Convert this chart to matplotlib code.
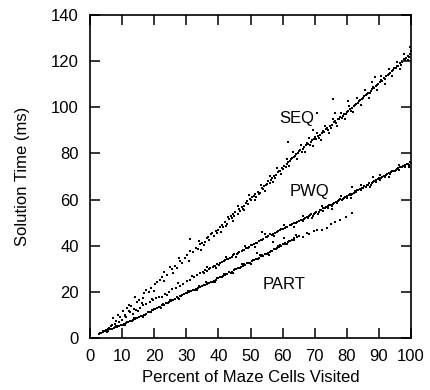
import matplotlib
matplotlib.use("Agg")
import matplotlib.pyplot as plt
import numpy as np

plt.rcParams['font.family'] = ['Liberation Sans', 'DejaVu Sans']

# ---- data (percent visited, solution time ms) ----
seq_pts = [
    (3.2,2.1),(4.1,3.0),(5.0,3.6),(5.8,4.5),(6.9,5.8),(7.3,8.5),(8.1,7.2),(8.6,9.8),(9.4,8.9),(10.2,11.6),
    (10.8,10.1),(11.5,12.8),(12.3,11.9),(12.9,14.0),(13.6,12.6),(14.5,15.8),(15.2,16.5),(16.1,15.2),(16.8,19.4),
    (17.6,20.8),(18.4,19.9),(19.1,21.6),(20.3,23.4),(20.8,24.3),(21.7,25.0),(22.3,26.5),(23.1,24.7),(23.9,27.3),
    (24.9,30.9),(25.6,29.8),(26.4,31.2),(27.2,30.5),(28.0,33.4),(28.8,32.6),(29.6,34.7),(30.2,35.9),(31.2,37.6),
    (31.2,42.8),(32.0,37.2),(32.9,39.1),(33.5,38.4),(34.3,40.6),(35.0,41.0),(35.8,41.7),(36.4,43.2),(37.1,42.6),
    (37.8,44.9),(38.5,44.1),(39.2,46.3),(40.0,46.8),(40.5,48.2),(41.3,47.9),(42.0,50.1),(42.6,49.3),(43.4,51.6),
    (44.1,51.9),(44.7,53.8),(45.3,54.6),(46.0,53.7),(46.7,55.2),(47.3,56.8),(48.0,57.1),(48.6,58.4),(49.2,57.9),
    (49.9,60.2),(50.5,60.9),(51.1,61.6),(51.8,61.2),(52.4,63.4),(53.0,63.0),(53.7,65.1),(54.3,65.8),(54.9,66.4),
    (55.5,67.9),(56.2,67.3),(56.8,69.2),(57.4,70.1),(58.0,70.8),(58.7,71.9),(59.3,72.6),(59.9,73.8),(60.5,74.5),
    (61.1,74.1),(61.8,76.3),(61.8,85.1),(62.4,76.8),(63.0,77.9),(63.6,78.4),(64.3,79.6),(64.9,80.3),(65.5,81.4),
    (66.1,80.8),(66.8,82.9),(67.4,83.5),(68.0,84.1),(68.6,83.6),(69.2,85.7),(69.6,90.2),(69.9,86.4),(70.5,86.1),
    (70.8,97.5),(71.1,87.5),(71.7,88.2),(72.3,88.9),(72.9,89.4),(73.6,90.6),(74.2,90.1),(74.8,91.8),(75.4,92.4),
    (75.8,103.6),(76.1,93.5),(76.3,97.4),(76.7,93.1),(77.3,94.8),(77.9,95.6),(78.5,95.2),(79.2,96.9),(79.8,97.3),
    (80.4,98.4),(80.5,102.9),(81.0,99.1),(81.6,99.8),(82.3,100.6),(82.9,101.4),(83.5,101.9),(84.1,103.2),
    (84.8,103.8),(85.4,104.7),(86.0,105.5),(86.6,106.3),(87.2,106.0),(87.9,107.8),(88.5,108.4),(88.8,113.3),
    (89.1,109.1),(89.7,110.2),(90.3,110.8),(91.0,111.5),(91.6,112.9),(92.2,113.4),(92.8,114.1),(93.4,114.8),
    (94.1,115.6),(94.7,116.9),(95.3,117.2),(95.9,118.0),(96.5,119.1),(97.2,119.6),(97.8,120.8),(98.4,121.3),
    (99.0,122.4),(99.6,123.1),(100.0,124.2),
    (35.4,40.2),(36.9,43.9),(38.1,45.6),(39.6,45.4),(41.0,49.0),(42.3,48.6),(43.8,52.7),(45.0,52.9),(46.4,55.9),
    (47.7,56.1),(49.0,59.3),(50.2,59.6),(51.5,62.5),(52.7,62.2),(54.0,64.6),(55.2,66.9),(56.5,68.6),(57.7,69.4),
    (59.0,72.3),(60.2,73.1),(61.5,75.6),(62.7,77.4),(64.0,78.8),(65.2,80.9),(66.5,81.9),(67.7,84.6),(69.0,84.9),
    (70.2,87.2),(71.4,86.9),(72.6,89.9),(73.9,91.2),(75.1,91.0),(76.4,93.9),(77.6,95.1),(78.8,96.3),(80.1,97.9),
    (81.3,98.6),(82.6,101.1),(83.8,102.6),(85.1,103.9),(86.3,105.9),(87.5,107.0),(88.2,108.9),(89.4,109.6),
    (90.6,111.9),(91.9,112.3),(93.1,114.4),(94.4,116.2),(95.6,117.7),(96.8,118.4),(98.1,120.7),(99.3,122.0),
    (40.8,46.1),(42.9,52.4),(44.4,50.9),(46.2,57.1),(47.9,55.4),(49.6,62.0),(51.3,59.6),(53.3,66.2),(54.6,63.9),
    (56.0,70.2),(57.1,67.4),(58.4,73.9),(59.6,71.0),(61.3,77.6),(62.1,74.6),(63.3,80.6),(64.6,77.6),(65.8,83.5),
    (67.1,80.6),(68.3,86.6),(69.4,83.4),(70.8,89.0),(71.9,85.8),(73.2,92.1),(74.5,88.9),(75.6,95.0),(77.0,92.0),
    (78.2,97.6),(79.5,94.9),(80.7,100.6),(82.0,97.8),(83.2,104.0),(84.4,101.0),(85.7,107.4),(87.0,104.1),
    (88.0,110.9),(89.3,107.3),(90.5,113.4),(91.8,110.2),(93.0,116.6),(94.2,113.4),(95.5,119.8),(96.7,116.8),
    (97.9,123.0),(99.2,120.4),(99.8,126.0),
    (12.0,14.5),(14.0,17.8),(16.5,17.5),(19.8,20.5),(22.9,28.6),(26.0,28.2),(27.6,34.8),(30.8,33.4),(33.9,41.9),
    (34.6,38.1),
]

pwq_pts = [
    (3.0,2.3),(4.4,3.2),(5.6,4.1),(6.5,5.0),(7.7,6.1),(8.9,6.9),(10.1,7.8),(11.2,9.1),(12.5,11.4),(13.3,10.6),
    (14.4,12.2),(15.6,12.9),(16.5,14.1),(17.4,14.6),(18.7,15.7),(19.6,16.3),(20.7,17.4),(21.6,17.6),(22.3,17.9),
    (23.4,19.2),(24.6,20.1),(25.5,21.3),(26.7,21.6),(28.0,22.4),(29.1,23.6),(30.2,24.9),(31.2,25.1),(32.3,26.4),
    (33.2,27.3),(34.3,28.0),(35.1,28.6),(35.9,29.5),(36.6,29.0),(37.4,30.3),(38.2,30.8),(38.9,31.4),(39.7,31.9),
    (40.5,32.4),(41.2,32.9),(42.0,33.6),(42.7,34.3),(43.5,34.8),(44.2,35.1),(45.0,36.2),(45.7,36.4),(46.5,37.3),
    (47.2,37.5),(48.0,38.2),(48.7,38.9),(49.5,39.4),(50.2,40.1),(51.0,40.7),(51.7,41.2),(52.5,41.9),(53.2,42.6),
    (53.5,46.1),(54.0,43.0),(54.7,43.8),(55.5,44.1),(56.2,44.9),(57.0,45.2),(57.7,45.5),(58.5,46.3),(59.2,46.8),
    (60.0,47.4),(60.7,47.6),(61.5,48.3),(62.2,48.9),(63.0,49.4),(63.7,49.8),(64.5,50.4),(65.2,50.9),(66.0,51.3),
    (66.7,51.6),(67.5,52.4),(68.2,52.7),(69.0,53.6),(69.7,53.9),(70.5,54.5),(71.2,54.8),(72.0,55.6),(72.7,56.3),
    (73.5,56.7),(74.2,57.1),(75.0,57.8),(75.7,58.2),(76.5,58.9),(77.2,59.4),(78.0,60.1),(78.7,60.4),(79.5,61.2),
    (80.2,61.7),(81.0,62.3),(81.5,65.6),(81.7,62.6),(82.5,63.5),(83.2,64.1),(84.0,64.6),(84.7,64.9),(85.5,65.8),
    (86.2,66.2),(87.0,67.0),(87.7,67.3),(88.3,70.0),(88.5,67.9),(89.2,68.5),(90.0,69.2),(90.7,69.5),(91.5,70.4),
    (92.2,70.8),(93.0,71.5),(93.7,71.8),(94.5,72.4),(95.2,72.9),(96.0,73.6),(96.7,74.1),(97.5,74.6),(98.2,75.0),
    (99.0,75.6),(99.7,76.3),
    (35.5,28.2),(37.0,29.8),(38.6,31.2),(40.1,31.7),(41.6,33.3),(43.1,34.2),(44.6,35.8),(46.1,36.7),(47.6,38.0),
    (49.1,38.8),(50.6,40.3),(52.1,41.3),(53.6,42.4),(55.1,43.8),(56.6,44.6),(58.1,45.9),(59.6,47.1),(61.1,47.9),
    (62.6,49.1),(64.1,50.0),(65.6,51.0),(67.1,51.9),(68.6,53.1),(70.1,54.0),(71.6,55.3),(73.1,56.2),(74.6,57.6),
    (76.1,58.4),(77.6,59.6),(79.1,60.6),(80.6,62.0),(82.1,62.8),(83.6,64.3),(85.1,65.2),(86.6,66.4),(88.1,67.6),
    (89.6,68.9),(91.1,69.9),(92.6,71.1),(94.1,72.2),(95.6,73.1),(97.1,74.2),(98.6,75.3),(99.9,75.9),
    (66.3,50.6),(67.9,51.8),(69.4,52.9),(71.0,53.9),(72.5,55.2),(74.0,56.4),(75.5,57.3),(77.0,58.6),(78.5,59.7),
    (80.0,60.8),(81.4,61.9),(83.0,63.1),(84.5,64.2),(86.0,65.3),(87.4,66.5),(89.0,67.7),(90.4,68.6),(92.0,70.0),
    (93.4,70.9),(95.0,72.2),(96.4,73.0),(98.0,74.1),(99.4,75.1),
    (36.3,30.6),(39.3,30.2),(42.3,35.0),(45.4,35.0),(48.4,39.8),(51.4,39.6),(54.4,44.9),(57.4,44.0),(60.4,48.9),
    (63.4,48.1),(66.4,52.9),(69.3,51.9),(72.3,57.1),(75.3,56.1),(78.3,61.5),(81.3,60.6),(84.3,66.2),(87.3,65.6),
    (90.3,70.7),(93.3,69.9),(96.3,75.0),(99.3,74.0),
    (10.8,9.6),(14.9,11.6),(19.2,17.1),(23.9,18.6),(27.5,23.8),(31.7,27.0),
]

part_pts = [
    (2.8,1.7),(3.5,2.2),(4.2,2.5),(4.9,3.0),(5.6,3.2),(6.3,3.8),(7.0,4.0),(7.7,4.6),(8.4,4.8),(9.1,5.3),
    (9.8,5.6),(10.5,6.1),(11.2,6.4),(11.9,7.0),(12.6,7.2),(13.3,7.9),(14.0,8.1),(14.7,8.7),(15.4,9.0),(16.1,9.5),
    (16.8,10.0),(17.5,10.4),(18.2,11.1),(18.9,11.4),(19.6,12.0),(20.3,12.5),(21.0,13.0),(21.7,13.3),(22.4,14.1),
    (23.1,14.4),(23.8,15.1),(24.5,15.4),(25.2,16.2),(25.9,16.5),(26.6,17.0),(27.3,17.4),(28.0,18.1),(28.7,18.5),
    (29.4,19.0),(30.1,19.6),(30.8,19.9),(31.5,20.5),(32.2,20.9),(32.9,21.3),(33.6,21.8),(34.3,22.3),(35.0,22.6),
    (35.7,23.1),(36.4,23.5),(37.1,24.0),(37.8,24.3),(38.5,24.9),(39.2,25.3),(39.9,25.9),(40.6,26.3),(41.3,26.8),
    (42.0,27.4),(42.7,27.7),(43.4,28.4),(44.1,28.8),(44.8,29.5),(45.5,29.8),(46.2,30.5),(46.9,30.9),(47.6,31.3),
    (48.3,31.8),(49.0,32.4),(49.7,32.7),(50.4,33.4),(51.1,33.7),(51.8,34.2),(52.5,34.7),(53.2,35.4),(53.9,35.7),
    (54.6,36.4),(55.3,36.9),(56.0,37.3),(56.7,37.9),(57.4,38.5),(58.1,38.9),(58.8,39.6),(59.5,40.0),(60.2,40.6),
    (60.9,41.1),(61.6,41.6),(62.3,42.2),(63.0,42.5),(63.7,43.2),(64.4,43.9),(65.1,44.1),
    (6.0,4.2),(7.4,4.3),(8.8,5.2),(10.2,5.5),(11.6,6.9),(13.0,7.4),(14.4,8.6),(15.8,9.4),(17.2,10.1),(18.6,11.3),
    (20.0,12.7),(21.4,13.4),(22.8,14.6),(24.2,15.0),(25.6,16.4),(27.0,17.6),(28.4,18.1),(29.8,19.4),(31.2,20.4),
    (32.6,21.0),(34.0,22.4),(35.4,22.9),(36.8,24.0),(38.2,24.4),(39.6,25.8),(41.0,26.4),(42.4,27.6),(43.8,28.3),
    (45.2,29.9),(46.6,30.4),(48.0,31.9),(49.4,32.3),(50.8,33.9),(52.2,34.2),(53.6,35.9),(55.0,36.4),(56.4,37.8),
    (57.8,38.4),(59.2,40.1),(60.6,40.7),(62.0,42.0),(63.4,42.6),
    (5.2,2.6),(8.0,5.3),(11.0,5.8),(13.7,8.6),(16.4,9.0),(19.2,12.2),(22.0,12.9),(24.8,16.3),(27.7,16.8),
    (30.5,20.3),(33.3,20.7),(36.1,24.1),(38.9,24.1),(41.7,27.9),(44.5,28.1),(47.3,32.0),(50.1,32.0),(52.9,35.8),
    (55.7,36.1),(58.5,39.9),(61.3,40.7),(64.1,44.6),
    (66.5,43.8),(67.5,45.4),(68.2,44.9),(69.8,46.3),(70.6,46.8),(72.4,47.0),(73.7,47.5),(75.0,49.3),(76.3,50.4),
    (78.0,51.1),(79.6,52.5),(81.5,54.3),(57.0,41.5),(60.3,43.5),(52.0,37.0),
]

series_labels = ["SEQ", "PWQ", "PART"]
label_pos = [(64.5, 95.0), (68.5, 63.3), (60.4, 23.4)]
x_ticks = list(range(0, 101, 10))
y_ticks = list(range(0, 141, 20))

fig = plt.figure(figsize=(4.3, 3.9), dpi=100)
ax = fig.add_axes([90/430, 52/390, 321/430, 323/390])

for pts in (seq_pts, pwq_pts, part_pts):
    arr = np.array(pts)
    ax.plot(arr[:, 0], arr[:, 1], linestyle='none', marker='s', markersize=1.6,
            color='black', markeredgewidth=0)

for lab, (lx, ly) in zip(series_labels, label_pos):
    ax.text(lx, ly, lab, ha='center', va='center', fontsize=12)

ax.set_xlim(0, 100)
ax.set_ylim(0, 140)
ax.set_xticks(x_ticks)
ax.set_yticks(y_ticks)
ax.tick_params(direction='in', top=True, right=True, length=7, width=1.1,
               labelsize=12, pad=8)
for sp in ax.spines.values():
    sp.set_linewidth(1.2)
ax.set_xlabel("Percent of Maze Cells Visited", fontsize=12, labelpad=4)
ax.set_ylabel("Solution Time (ms)", fontsize=12, labelpad=15)

fig.savefig("out.png", dpi=100)
